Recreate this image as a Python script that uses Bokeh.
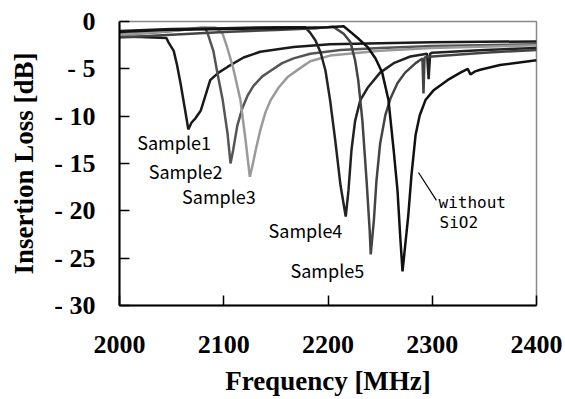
from bokeh.plotting import figure
from bokeh.models import Range1d, FixedTicker
from bokeh.core.properties import value
from bokeh.embed import file_html
from bokeh.resources import INLINE

# ---- data ----
s1_f = [2000, 2020, 2045, 2047, 2052, 2055, 2058.5, 2063, 2066, 2069, 2073, 2078, 2082.5, 2087, 2095, 2103.6, 2119, 2135, 2167, 2202, 2250, 2300, 2400]
s1_db = [-1.6, -1.65, -1.75, -2.2, -3.1, -4.5, -6.5, -9.4, -11.4, -10.7, -10.2, -9.4, -7.8, -6.2, -5.4, -4.8, -3.8, -3.2, -2.7, -2.4, -2.3, -2.2, -2.1]

s2_f = [2000, 2040, 2070, 2082, 2084.4, 2090, 2094, 2099, 2103.6, 2106.5, 2109, 2113, 2118, 2123, 2128.5, 2137, 2145, 2156, 2167, 2183, 2212, 2250, 2300, 2400]
s2_db = [-1.4, -1.1, -0.8, -0.65, -1.2, -3.1, -5.5, -8.3, -11.8, -15.0, -13.6, -11.0, -9.1, -7.8, -6.8, -5.8, -5.2, -4.4, -3.9, -3.4, -3.0, -2.8, -2.6, -2.4]

s3_f = [2000, 2050, 2078, 2092, 2099, 2103.6, 2109, 2116, 2121, 2125, 2127.6, 2131, 2135, 2140, 2145, 2152.5, 2161, 2173.6, 2183, 2202, 2250, 2300, 2400]
s3_db = [-1.4, -1.0, -0.63, -0.63, -1.3, -2.85, -4.9, -8.3, -12.6, -16.4, -15.2, -13.4, -11.5, -9.6, -8.3, -7.0, -5.9, -4.9, -4.2, -3.6, -3.1, -2.8, -2.5]

s4_f = [2000, 2050, 2100, 2150, 2178, 2183, 2188, 2193, 2197.6, 2202, 2207, 2212, 2217, 2219.6, 2222.5, 2226, 2231, 2238, 2250, 2263, 2279, 2295, 2296.5, 2298, 2300, 2350, 2400]
s4_db = [-1.0, -0.8, -0.7, -0.6, -0.6, -1.2, -2.0, -3.3, -5.2, -8.3, -12.6, -17.3, -20.6, -17.9, -13.6, -10.5, -8.3, -7.0, -5.4, -4.4, -3.7, -3.4, -6.1, -3.4, -3.3, -3.0, -2.8]

s5_f = [2000, 2050, 2100, 2150, 2190, 2205, 2215, 2221.6, 2226, 2229, 2233, 2237, 2240, 2241, 2244, 2246.5, 2250, 2255, 2260, 2266.7, 2274, 2284, 2290.6, 2291.6, 2292.6, 2300, 2350, 2400]
s5_db = [-1.7, -1.4, -1.1, -0.9, -0.7, -0.55, -1.3, -2.2, -4.1, -6.2, -10.5, -16.8, -22.1, -24.6, -21.0, -16.8, -12.9, -9.9, -8.1, -6.5, -5.4, -4.4, -3.9, -7.6, -3.8, -3.7, -3.3, -3.0]

s0_f = [2000, 2040, 2100, 2150, 2200, 2215, 2221.6, 2229, 2238, 2245.6, 2252, 2258, 2263, 2266.7, 2269.5, 2271.5, 2274, 2277, 2280, 2284, 2288, 2293.5, 2301, 2314.6, 2327, 2334, 2336.7, 2340.5, 2346, 2365, 2400]
s0_db = [-1.1, -0.9, -0.8, -0.7, -0.6, -0.5, -1.1, -1.8, -2.7, -3.9, -5.4, -8.3, -13.6, -17.9, -23.1, -26.4, -23.7, -20.5, -16.3, -12.0, -9.9, -8.3, -7.3, -6.2, -5.4, -5.0, -5.6, -5.3, -5.1, -4.6, -4.1]

series_f = [s1_f, s2_f, s3_f, s4_f, s5_f, s0_f]
series_db = [s1_db, s2_db, s3_db, s4_db, s5_db, s0_db]
series_colors = ["#1a1a1a", "#555555", "#9a9a9a", "#222222", "#444444", "#111111"]

labels = ["Sample1", "Sample2", "Sample3", "Sample4", "Sample5"]
label_f = [2017, 2028, 2060, 2143, 2164]
label_db = [-12.7, -15.8, -18.4, -22.0, -26.3]

note_lines = ["without", "SiO2"]
note_f = [2306, 2307]
note_db = [-19.1, -21.2]
leader_f = [2286.8, 2304]
leader_db = [-15.95, -18.9]

x_ticks = [2000, 2100, 2200, 2300, 2400]
y_ticks = [0, -5, -10, -15, -20, -25, -30]
y_tick_text = {0: "0", -5: "- 5", -10: "- 10", -15: "- 15", -20: "- 20", -25: "- 25", -30: "- 30"}

# ---- figure ----
p = figure(width=565, height=399, output_backend="svg", toolbar_location=None,
           x_range=Range1d(2000, 2400), y_range=Range1d(-30, 0),
           min_border_left=119, min_border_right=29, min_border_top=21, min_border_bottom=94)
p.outline_line_color = "#888888"
p.outline_line_width = 1.5
p.xgrid.visible = False
p.ygrid.visible = False
p.background_fill_color = "white"
p.border_fill_color = "white"

for f, d, c in zip(series_f, series_db, series_colors):
    p.line(f, d, line_color=c, line_width=2.5)

p.text(x=label_f, y=label_db, text=labels, text_font=value("Noto Sans CJK JP"),
       text_font_size="18px", text_baseline="middle", text_align="left", text_color="black")
p.text(x=note_f, y=note_db, text=note_lines, text_font=value("DejaVu Sans Mono"),
       text_font_size="16px", text_baseline="middle", text_align="left", text_color="black")
p.line(leader_f, leader_db, line_color="black", line_width=1.2)

for ax in (p.xaxis[0], p.yaxis[0]):
    ax.axis_line_color = "black"
    ax.axis_line_width = 2
    ax.major_tick_in = 10
    ax.major_tick_out = 0
    ax.major_tick_line_color = "black"
    ax.major_tick_line_width = 1.5
    ax.minor_tick_line_color = None
    ax.major_label_text_font = "Liberation Serif"
    ax.major_label_text_font_style = "bold"
    ax.major_label_text_font_size = "26px"
    ax.major_label_text_color = "black"
    ax.axis_label_text_font = "Liberation Serif"
    ax.axis_label_text_font_style = "bold"
    ax.axis_label_text_font_size = "27px"
    ax.axis_label_text_color = "black"

p.xaxis[0].ticker = FixedTicker(ticks=x_ticks)
p.yaxis[0].ticker = FixedTicker(ticks=y_ticks)
p.yaxis[0].major_label_overrides = y_tick_text
p.xaxis.axis_label = "Frequency [MHz]"
p.yaxis.axis_label = "Insertion Loss [dB]"
p.xaxis[0].major_label_standoff = 30
p.yaxis[0].major_label_standoff = 24
p.xaxis[0].axis_label_standoff = 10
p.yaxis[0].axis_label_standoff = 12

open("out.html", "w").write(file_html(p, INLINE))
